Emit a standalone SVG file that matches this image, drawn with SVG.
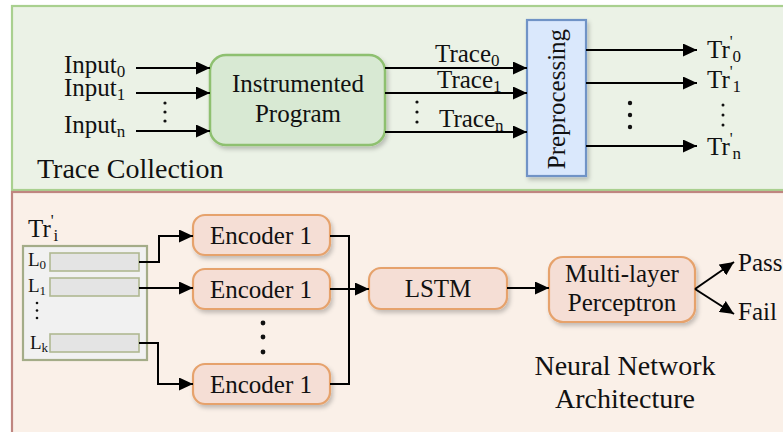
<svg xmlns="http://www.w3.org/2000/svg" width="783" height="432" viewBox="0 0 783 432">
<style>
.ln{fill:none;stroke:#000;stroke-width:2}
.ar{marker-end:url(#ah)}
.enc{fill:#f5ded5;stroke:#e6a26c;stroke-width:2.2}
.bar{fill:#e4e4e4;stroke:#b0b892;stroke-width:1.6}
.dot{fill:#111}
</style>
<defs>
<marker id="ah" markerUnits="userSpaceOnUse" markerWidth="14" markerHeight="13" refX="14" refY="6.5" orient="auto">
<path d="M0,0 L14,6.5 L0,13 z" fill="#000"/>
</marker>
<filter id="sh" x="-10%" y="-10%" width="130%" height="140%">
<feDropShadow dx="2" dy="3" stdDeviation="2" flood-color="#000" flood-opacity="0.22"/>
</filter>
</defs>

<g id="panel-trace">
<rect x="12" y="6" width="800" height="184" fill="#ebf2e6" stroke="#a9d08f" stroke-width="2.2"/>
<text font-family="Liberation Serif" font-size="28" fill="#111" x="37" y="178">Trace Collection</text>
</g>
<g id="panel-nn">
<rect x="12" y="192" width="800" height="260" fill="#faf0e8" stroke="#bf8680" stroke-width="2.2"/>
<text font-family="Liberation Serif" font-size="28" fill="#111" text-anchor="middle" x="625" y="375">Neural Network</text>
<text font-family="Liberation Serif" font-size="28" fill="#111" text-anchor="middle" x="625" y="408">Architecture</text>
</g>

<g id="inputs">
<text font-family="Liberation Serif" font-size="25" fill="#111" x="64" y="73">Input<tspan font-size="17" dy="4">0</tspan></text>
<text font-family="Liberation Serif" font-size="25" fill="#111" x="64" y="96">Input<tspan font-size="17" dy="4">1</tspan></text>
<text font-family="Liberation Serif" font-size="25" fill="#111" x="64" y="133">Input<tspan font-size="17" dy="4">n</tspan></text>
<circle class="dot" cx="165" cy="103" r="1.6"/>
<circle class="dot" cx="165" cy="112" r="1.6"/>
<circle class="dot" cx="165" cy="121" r="1.6"/>
</g>

<g id="instrumented-program">
<rect x="210" y="55" width="175" height="90" rx="16" fill="#d8e9d3" stroke="#8ec06f" stroke-width="2.5" filter="url(#sh)"/>
<text font-family="Liberation Serif" font-size="25" fill="#111" text-anchor="middle" x="298" y="92">Instrumented</text>
<text font-family="Liberation Serif" font-size="25" fill="#111" text-anchor="middle" x="298" y="122">Program</text>
</g>

<g id="traces">
<text font-family="Liberation Serif" font-size="25" fill="#111" x="435" y="62">Trace<tspan font-size="17" dy="4">0</tspan></text>
<text font-family="Liberation Serif" font-size="25" fill="#111" x="437" y="88">Trace<tspan font-size="17" dy="4">1</tspan></text>
<text font-family="Liberation Serif" font-size="25" fill="#111" x="439" y="127">Trace<tspan font-size="17" dy="4">n</tspan></text>
<circle class="dot" cx="417" cy="102" r="1.6"/>
<circle class="dot" cx="417" cy="112" r="1.6"/>
<circle class="dot" cx="417" cy="122" r="1.6"/>
</g>

<g id="preprocessing">
<rect x="527" y="20" width="59" height="156" fill="#dae8fc" stroke="#6f93c6" stroke-width="2.2" filter="url(#sh)"/>
<text font-family="Liberation Serif" font-size="25" fill="#111" text-anchor="middle" transform="translate(565,99) rotate(-90)">Preprocessing</text>
</g>

<g id="outputs">
<circle class="dot" cx="630" cy="103" r="2.2"/>
<circle class="dot" cx="630" cy="115" r="2.2"/>
<circle class="dot" cx="630" cy="127" r="2.2"/>
<text font-family="Liberation Serif" font-size="25" fill="#111" x="707" y="58">Tr<tspan font-size="16" dy="-11">'</tspan><tspan font-size="17" dy="15">0</tspan></text>
<text font-family="Liberation Serif" font-size="25" fill="#111" x="707" y="88">Tr<tspan font-size="16" dy="-11">'</tspan><tspan font-size="17" dy="15">1</tspan></text>
<text font-family="Liberation Serif" font-size="25" fill="#111" x="707" y="155">Tr<tspan font-size="16" dy="-11">'</tspan><tspan font-size="17" dy="15">n</tspan></text>
<circle class="dot" cx="723" cy="105" r="1.5"/>
<circle class="dot" cx="723" cy="115" r="1.5"/>
<circle class="dot" cx="723" cy="125" r="1.5"/>
</g>

<g id="trace-input">
<text font-family="Liberation Serif" font-size="25" fill="#111" x="28" y="237">Tr<tspan font-size="16" dy="-11">'</tspan><tspan font-size="17" dy="15">i</tspan></text>
<rect x="23" y="246" width="124" height="114" fill="#f1f1f1" stroke="#a4ac88" stroke-width="2.2"/>
<rect class="bar" x="50" y="253" width="89" height="18"/>
<rect class="bar" x="50" y="278" width="89" height="18"/>
<rect class="bar" x="50" y="334" width="89" height="18"/>
<text font-family="Liberation Serif" font-size="19" fill="#111" x="28" y="266">L<tspan font-size="13" dy="3">0</tspan></text>
<text font-family="Liberation Serif" font-size="19" fill="#111" x="28" y="292">L<tspan font-size="13" dy="3">1</tspan></text>
<text font-family="Liberation Serif" font-size="19" fill="#111" x="30" y="349">L<tspan font-size="13" dy="3">k</tspan></text>
<circle class="dot" cx="37" cy="303" r="1.3"/>
<circle class="dot" cx="37" cy="310.5" r="1.3"/>
<circle class="dot" cx="37" cy="318" r="1.3"/>
</g>

<g id="encoder-a">
<rect class="enc" x="193" y="215" width="137" height="40" rx="12" filter="url(#sh)"/>
<text font-family="Liberation Serif" font-size="25" fill="#111" text-anchor="middle" x="261" y="244">Encoder 1</text>
</g>
<g id="encoder-b">
<rect class="enc" x="193" y="269" width="137" height="40" rx="12" filter="url(#sh)"/>
<text font-family="Liberation Serif" font-size="25" fill="#111" text-anchor="middle" x="261" y="298">Encoder 1</text>
</g>
<g id="encoder-c">
<rect class="enc" x="193" y="364" width="137" height="40" rx="12" filter="url(#sh)"/>
<text font-family="Liberation Serif" font-size="25" fill="#111" text-anchor="middle" x="261" y="393">Encoder 1</text>
</g>
<g id="encoder-dots">
<circle class="dot" cx="263" cy="323" r="2.4"/>
<circle class="dot" cx="263" cy="337" r="2.4"/>
<circle class="dot" cx="263" cy="352" r="2.4"/>
</g>

<g id="lstm">
<rect class="enc" x="369" y="268" width="138" height="41" rx="12" filter="url(#sh)"/>
<text font-family="Liberation Serif" font-size="25" fill="#111" text-anchor="middle" x="438" y="297">LSTM</text>
</g>

<g id="mlp">
<rect class="enc" x="549" y="257" width="146" height="65" rx="14" filter="url(#sh)"/>
<text font-family="Liberation Serif" font-size="25" fill="#111" text-anchor="middle" x="622" y="282">Multi-layer</text>
<text font-family="Liberation Serif" font-size="25" fill="#111" text-anchor="middle" x="622" y="311">Perceptron</text>
</g>

<g id="results">
<text font-family="Liberation Serif" font-size="25" fill="#111" x="738" y="271">Pass</text>
<text font-family="Liberation Serif" font-size="25" fill="#111" x="738" y="320">Fail</text>
</g>

<g id="connectors">
<line class="ln ar" x1="136" y1="68" x2="210" y2="68"/>
<line class="ln ar" x1="136" y1="93" x2="210" y2="93"/>
<line class="ln ar" x1="136" y1="131" x2="210" y2="131"/>
<line class="ln ar" x1="385" y1="68" x2="527" y2="68"/>
<line class="ln ar" x1="385" y1="93" x2="527" y2="93"/>
<line class="ln ar" x1="385" y1="132" x2="527" y2="132"/>
<line class="ln ar" x1="586" y1="50" x2="697" y2="50"/>
<line class="ln ar" x1="586" y1="83" x2="697" y2="83"/>
<line class="ln ar" x1="586" y1="146" x2="697" y2="146"/>
<polyline class="ln ar" points="139,262 159,262 159,236 193,236"/>
<line class="ln ar" x1="139" y1="288" x2="193" y2="288"/>
<polyline class="ln ar" points="139,343 158,343 158,384 193,384"/>
<polyline class="ln" points="330,236 349,236 349,384 330,384"/>
<line class="ln ar" x1="330" y1="289" x2="369" y2="289"/>
<line class="ln ar" x1="507" y1="288" x2="549" y2="288"/>
<line class="ln ar" x1="695" y1="289" x2="734" y2="262"/>
<line class="ln ar" x1="695" y1="289" x2="734" y2="314"/>
</g>
</svg>
